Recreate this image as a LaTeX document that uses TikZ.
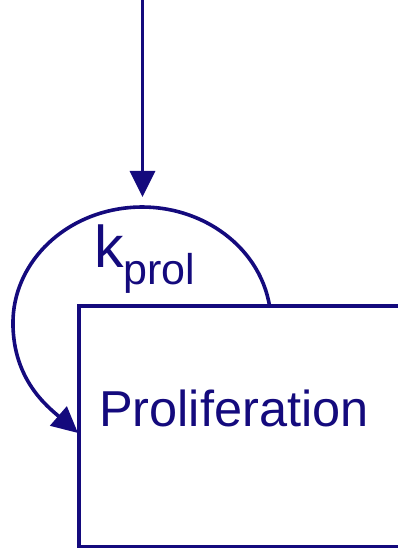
\documentclass[tikz,border=0pt]{standalone}
\usepackage{fontspec}
\setmainfont{Liberation Sans}
\usetikzlibrary{arrows.meta}
\definecolor{navy}{RGB}{20,10,125}
\tikzset{
  wire/.style={draw=navy, line width=3.6pt},
  headtip/.style={-{Triangle[length=26pt,width=25pt]}},
  compartment/.style={draw=navy, line width=3.6pt, rectangle, inner sep=0pt},
  lbl/.style={text=navy, inner sep=0pt, anchor=base west},
}
\begin{document}
\begin{tikzpicture}[x=1pt,y=1pt]
\useasboundingbox (0,0) rectangle (397,548);
% compartment box (runs off the right edge)
\node[compartment, minimum width=381pt, minimum height=240.5pt] (prolif) at (269.5,121.75) {};
\node[lbl, font=\fontsize{50.5}{53}\selectfont] (plabel) at (99,121) {Proliferation};
% inflow from above
\coordinate (src) at (142.5,560);
\coordinate (tiptop) at (142.5,351);
\draw[wire, headtip] (src) -- (tiptop);
% proliferation loop back into the box
\coordinate (loopstart) at (269.7,241.1);
\coordinate (loopend) at (78,115);
\draw[wire, headtip] (loopstart) arc[start angle=8, end angle=180, x radius=129, y radius=116]
  .. controls (13,168) and (48,141) .. (loopend);
\node[lbl] (rate) at (94,280) {\fontsize{59}{61}\selectfont k\raisebox{-17pt}{\fontsize{43}{45}\selectfont prol}};
\end{tikzpicture}
\end{document}
